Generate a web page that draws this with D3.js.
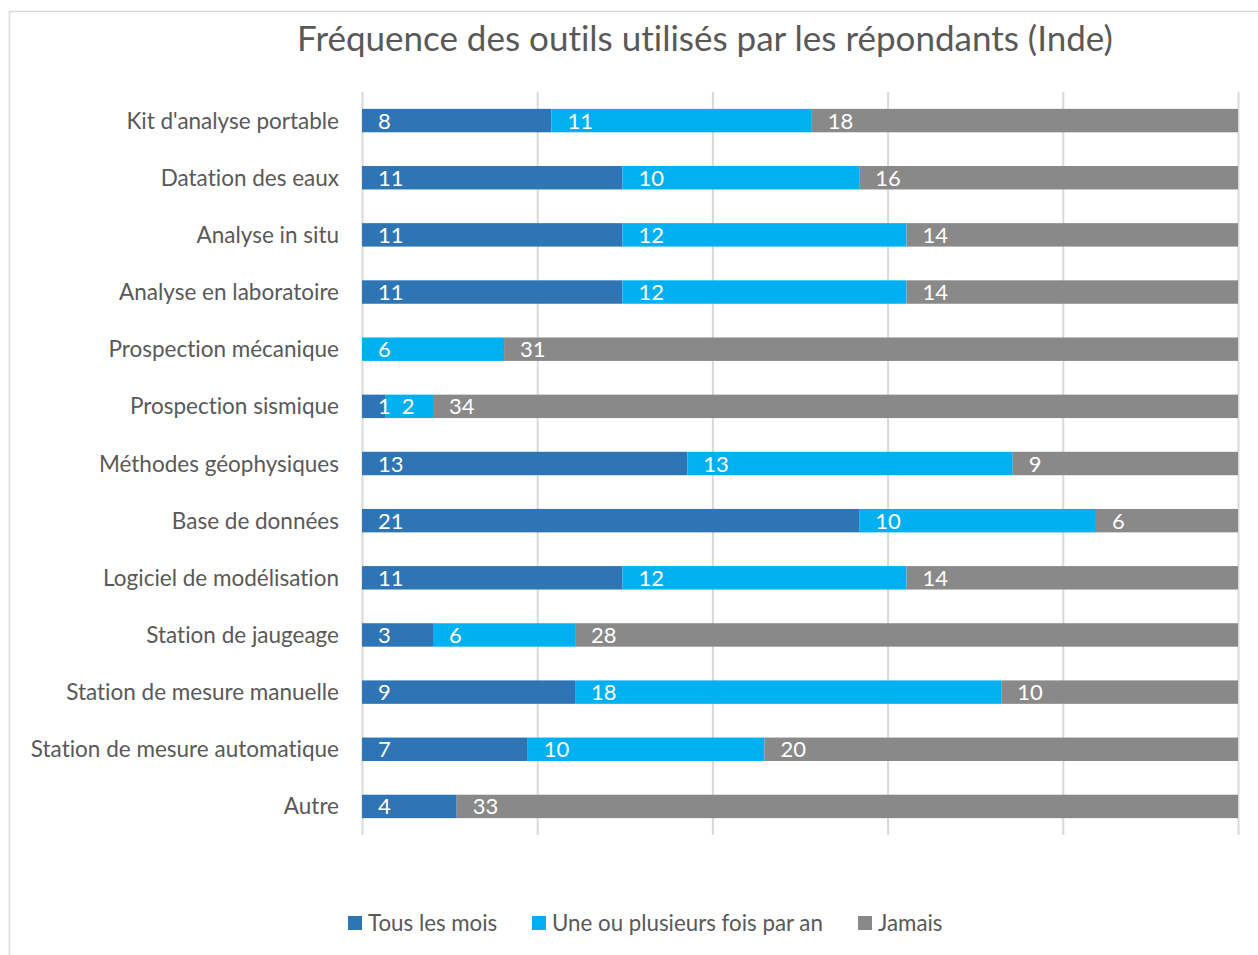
<!DOCTYPE html>
<html>
<head>
<meta charset="utf-8">
<script src="https://cdn.jsdelivr.net/npm/d3@7"></script>
<style>
  body { margin: 0; background: #fff; }
  text { font-family: Lato, "Open Sans", sans-serif; font-variant-ligatures: none; }
</style>
</head>
<body>
<div id="chart"></div>
<script>
// categories, top to bottom
var categories = [
  "Kit d'analyse portable",
  "Datation des eaux",
  "Analyse in situ",
  "Analyse en laboratoire",
  "Prospection mécanique",
  "Prospection sismique",
  "Méthodes géophysiques",
  "Base de données",
  "Logiciel de modélisation",
  "Station de jaugeage",
  "Station de mesure manuelle",
  "Station de mesure automatique",
  "Autre"
];

var seriesNames = ["Tous les mois", "Une ou plusieurs fois par an", "Jamais"];
var seriesColors = ["#2E75B6", "#00B0F0", "#898989"];

var tousLesMois = [8, 11, 11, 11, 0, 1, 13, 21, 11, 3, 9, 7, 4];
var uneOuPlusieurs = [11, 10, 12, 12, 6, 2, 13, 10, 12, 6, 18, 10, 0];
var jamais = [18, 16, 14, 14, 31, 34, 9, 6, 14, 28, 10, 20, 33];

var gridTicks = [0, 0.2, 0.4, 0.6, 0.8, 1];

var svgWidth = 1258;
var svgHeight = 955;
var margin = { top: 92, right: 20, bottom: 120, left: 362 };
var plotRight = 1238;
var plotBottom = 835;

var svg = d3.select("#chart")
  .append("svg")
  .attr("width", svgWidth)
  .attr("height", svgHeight);

// chart border
svg.append("rect")
  .attr("x", 9.5)
  .attr("y", 11.5)
  .attr("width", 1260)
  .attr("height", 960)
  .attr("fill", "none")
  .attr("stroke", "#d9d9d9")
  .attr("stroke-width", 1.5);

// build rows: each category as 100% stacked
var rows = categories.map(function(c, i) {
  return { cat: c, vals: [tousLesMois[i], uneOuPlusieurs[i], jamais[i]] };
});

var xScale = d3.scaleLinear().domain([0, 1]).range([margin.left, plotRight]);
var yScale = d3.scaleBand()
  .domain(categories)
  .range([margin.top, plotBottom])
  .paddingInner(0.59)
  .paddingOuter(0.295);

// gridlines
var grid = svg.append("g")
  .attr("transform", "translate(0," + plotBottom + ")")
  .call(d3.axisBottom(xScale).tickValues(gridTicks).tickSize(-(plotBottom - margin.top)).tickFormat(""));
grid.select(".domain").remove();
grid.selectAll("line").attr("stroke", "#d9d9d9").attr("stroke-width", 2);

// stacked segments
rows.forEach(function(r) {
  var total = d3.sum(r.vals);
  var acc = 0;
  r.segs = r.vals.map(function(v, k) {
    var s = { v: v, k: k, x0: acc / total, x1: (acc + v) / total, cat: r.cat };
    acc += v;
    return s;
  });
});

var segs = [];
rows.forEach(function(r) { segs = segs.concat(r.segs); });

svg.append("g").selectAll("rect")
  .data(segs)
  .enter()
  .append("rect")
  .attr("x", function(d) { return xScale(d.x0); })
  .attr("y", function(d) { return yScale(d.cat); })
  .attr("width", function(d) { return xScale(d.x1) - xScale(d.x0); })
  .attr("height", yScale.bandwidth())
  .attr("fill", function(d) { return seriesColors[d.k]; });

// value labels at inside base
svg.append("g").selectAll("text")
  .data(segs.filter(function(d) { return d.v > 0; }))
  .enter()
  .append("text")
  .attr("x", function(d) { return xScale(d.x0) + 16; })
  .attr("y", function(d) { return yScale(d.cat) + yScale.bandwidth() / 2 + 8; })
  .attr("fill", "#fff")
  .style("font-size", "22px")
  .text(function(d) { return d.v; });

// category labels
svg.append("g").selectAll("text")
  .data(categories)
  .enter()
  .append("text")
  .attr("x", 339)
  .attr("y", function(d) { return yScale(d) + yScale.bandwidth() / 2 + 8; })
  .attr("text-anchor", "end")
  .attr("fill", "#595959")
  .style("font-size", "22.5px")
  .text(function(d) { return d; });

// title
svg.append("text")
  .attr("x", 705)
  .attr("y", 51)
  .attr("text-anchor", "middle")
  .attr("fill", "#595959")
  .style("font-size", "35px")
  .text("Fréquence des outils utilisés par les répondants (Inde)");

// legend
var legendX = [348, 532, 858];
var legend = svg.append("g").selectAll("g")
  .data(seriesNames)
  .enter()
  .append("g")
  .attr("transform", function(d, i) { return "translate(" + legendX[i] + ",916)"; });

legend.append("rect")
  .attr("width", 14)
  .attr("height", 14)
  .attr("fill", function(d, i) { return seriesColors[i]; });

legend.append("text")
  .attr("x", 20)
  .attr("y", 15)
  .attr("fill", "#595959")
  .style("font-size", "22.3px")
  .text(function(d) { return d; });
</script>
</body>
</html>
